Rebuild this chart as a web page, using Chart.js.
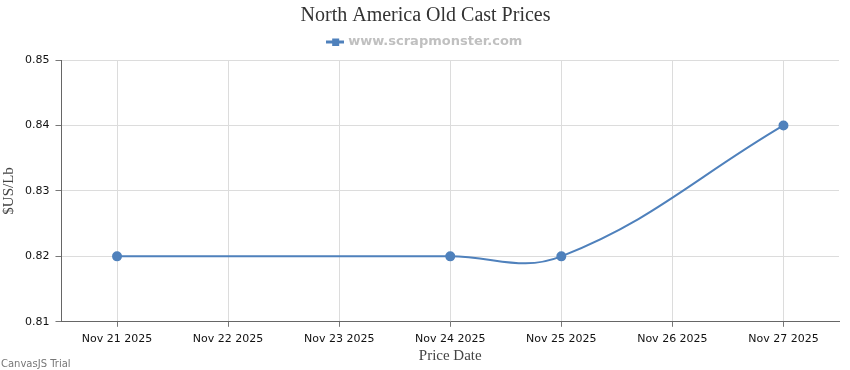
<!DOCTYPE html>
<html>
<head>
<meta charset="utf-8">
<script src="https://cdn.jsdelivr.net/npm/chart.js@4.4.1/dist/chart.umd.min.js"></script>
<style>
  html, body { margin: 0; padding: 0; background: #fff; }
  #wrap { position: relative; width: 850px; height: 370px; }
</style>
</head>
<body>
<div id="wrap"><canvas id="priceChart" width="850" height="370"></canvas></div>
<script>
// Chart data
const dayTicks = [21, 22, 23, 24, 25, 26, 27];
const dayLabels = ["Nov 21 2025", "Nov 22 2025", "Nov 23 2025", "Nov 24 2025", "Nov 25 2025", "Nov 26 2025", "Nov 27 2025"];
const priceDays = [21, 24, 25, 27];
const prices = [0.82, 0.82, 0.82, 0.84];
const seriesName = "www.scrapmonster.com";

const lineColor = "#4F81BC";

// legend marker: short line with a square in the middle
const marker = document.createElement("canvas");
marker.width = 18;
marker.height = 8;
const mctx = marker.getContext("2d");
mctx.fillStyle = lineColor;
mctx.fillRect(0, 3, 18, 3);
mctx.fillRect(6, 1, 7, 7);

// title + legend are centred on the full width, not on the plot
const centerHeader = {
  id: "centerHeader",
  afterLayout(chart) {
    const shift = 6;
    chart.titleBlock.left += shift;
    chart.titleBlock.right += shift;
    chart.legend.left += shift;
    chart.legend.right += shift;
    chart.legend.top -= 2;
    chart.legend.bottom -= 2;
  }
};

const watermark = {
  id: "watermark",
  afterDraw(chart) {
    const c = chart.ctx;
    c.save();
    c.font = "10px 'DejaVu Sans', sans-serif";
    c.fillStyle = "#777";
    c.textBaseline = "alphabetic";
    c.fillText("CanvasJS Trial", 1, 367);
    c.restore();
  }
};

const ctx = document.getElementById("priceChart").getContext("2d");
new Chart(ctx, {
  type: "line",
  data: {
    datasets: [
      {
        label: seriesName,
        data: priceDays.map((d, i) => ({ x: d, y: prices[i] })),
        borderColor: lineColor,
        backgroundColor: lineColor,
        borderWidth: 2,
        pointRadius: 4,
        pointHoverRadius: 4,
        tension: 0.4,
        fill: false,
      },
    ],
  },
  options: {
    responsive: false,
    animation: false,
    layout: { padding: { left: 0, right: 11, top: 2, bottom: 5 } },
    plugins: {
      title: {
        display: true,
        text: "North America Old Cast Prices",
        color: "#333",
        font: { family: "'Liberation Serif', serif", size: 20, weight: "normal" },
        padding: { top: 2, bottom: 1 },
      },
      legend: {
        display: true,
        labels: {
          usePointStyle: true,
          pointStyle: marker,
          color: "#c0c0c0",
          font: { family: "'DejaVu Sans', sans-serif", size: 13, weight: "bold" },
          padding: 8,
        },
      },
      tooltip: { enabled: false },
    },
    scales: {
      x: {
        type: "linear",
        min: 20.5,
        max: 27.5,
        afterBuildTicks: (axis) => {
          axis.ticks = dayTicks.map((v) => ({ value: v }));
        },
        ticks: {
          color: "#111",
          font: { family: "'DejaVu Sans', sans-serif", size: 11 },
          padding: 6,
          maxRotation: 0,
          callback: (v) => dayLabels[dayTicks.indexOf(v)],
        },
        grid: { color: "#dcdcdc", tickColor: "#777", tickLength: 5 },
        border: { color: "#666", width: 1 },
        title: {
          display: true,
          text: "Price Date",
          color: "#444",
          font: { family: "'Liberation Serif', serif", size: 15 },
          padding: { top: -5, bottom: 0 },
        },
      },
      y: {
        min: 0.81,
        max: 0.85,
        ticks: {
          stepSize: 0.01,
          color: "#111",
          font: { family: "'DejaVu Sans', sans-serif", size: 11 },
          padding: 6,
          callback: (v) => v.toFixed(2),
        },
        grid: { color: "#dcdcdc", tickColor: "#777", tickLength: 6 },
        border: { color: "#666", width: 1 },
        title: {
          display: true,
          text: "$US/Lb",
          color: "#444",
          font: { family: "'Liberation Serif', serif", size: 15 },
          padding: { top: 0, bottom: 1 },
        },
      },
    },
  },
  plugins: [centerHeader, watermark],
});
</script>
</body>
</html>
